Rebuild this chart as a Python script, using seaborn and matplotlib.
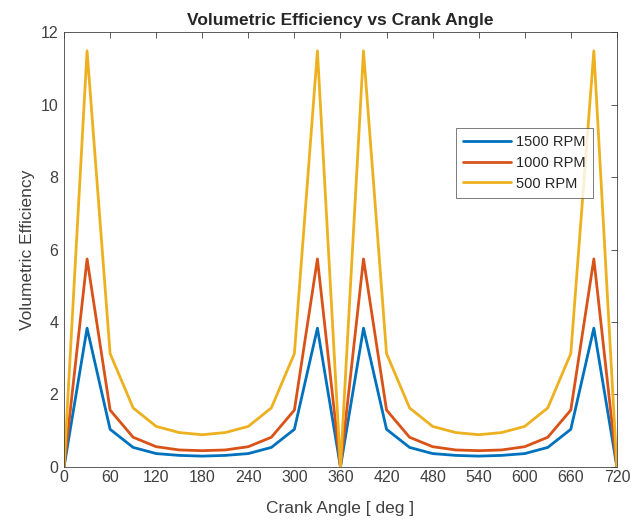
import numpy as np
import pandas as pd
import matplotlib
matplotlib.use("Agg")
import matplotlib.pyplot as plt
import seaborn as sns

crank_angle = list(range(0, 721, 30))
ve_1500 = [0, 3.83, 1.04, 0.54, 0.37, 0.32, 0.30, 0.32, 0.37, 0.54, 1.04, 3.83, 0,
           3.83, 1.04, 0.54, 0.37, 0.32, 0.30, 0.32, 0.37, 0.54, 1.04, 3.83, 0]
ve_1000 = [0, 5.74, 1.57, 0.82, 0.56, 0.47, 0.45, 0.47, 0.56, 0.82, 1.57, 5.74, 0,
           5.74, 1.57, 0.82, 0.56, 0.47, 0.45, 0.47, 0.56, 0.82, 1.57, 5.74, 0]
ve_500 = [0, 11.48, 3.13, 1.63, 1.12, 0.95, 0.89, 0.95, 1.12, 1.63, 3.13, 11.48, 0,
          11.48, 3.13, 1.63, 1.12, 0.95, 0.89, 0.95, 1.12, 1.63, 3.13, 11.48, 0]
series_labels = ["1500 RPM", "1000 RPM", "500 RPM"]
x_ticks = list(range(0, 721, 60))
y_ticks = [0, 2, 4, 6, 8, 10, 12]

df = pd.DataFrame({
    "angle": crank_angle * 3,
    "ve": ve_1500 + ve_1000 + ve_500,
    "speed": [series_labels[0]] * len(crank_angle) + [series_labels[1]] * len(crank_angle)
             + [series_labels[2]] * len(crank_angle),
})

sns.set_style("white")
plt.rcParams['font.family'] = ['Liberation Sans', 'DejaVu Sans']

fig = plt.figure(figsize=(6.34, 5.25), dpi=100)
ax = fig.add_axes([0.101, 0.1105, 0.872, 0.8285])
palette = ["#0072BD", "#D95319", "#EDB120"]
sns.lineplot(data=df, x="angle", y="ve", hue="speed", palette=palette, linewidth=2.0,
             ax=ax, hue_order=series_labels)

ax.set_xlim(0, 720)
ax.set_ylim(0, 12)
ax.set_xticks(x_ticks)
ax.set_yticks(y_ticks)
ax.tick_params(direction="in", length=4, width=0.6, top=True, right=True,
               labelsize=11.5, colors="#404040", pad=4)
ax.tick_params(axis="x", pad=2)
for s in ax.spines.values():
    s.set_color("#404040")
    s.set_linewidth(0.6)
ax.set_xlabel("Crank Angle [ deg ]", fontsize=12.5, color="#404040", labelpad=12)
ax.set_ylabel("Volumetric Efficiency", fontsize=12.5, color="#404040")
ax.set_title("Volumetric Efficiency vs Crank Angle", fontsize=12.5, fontweight="bold", pad=5)

leg = ax.legend(loc="upper left", bbox_to_anchor=(0.709, 0.779), fontsize=10.5,
                frameon=True, fancybox=False, edgecolor="#404040", borderaxespad=0,
                handlelength=3.3, borderpad=0.5, labelspacing=0.45, handletextpad=0.3)
leg.get_frame().set_linewidth(0.6)

fig.savefig("out.png", dpi=100)
